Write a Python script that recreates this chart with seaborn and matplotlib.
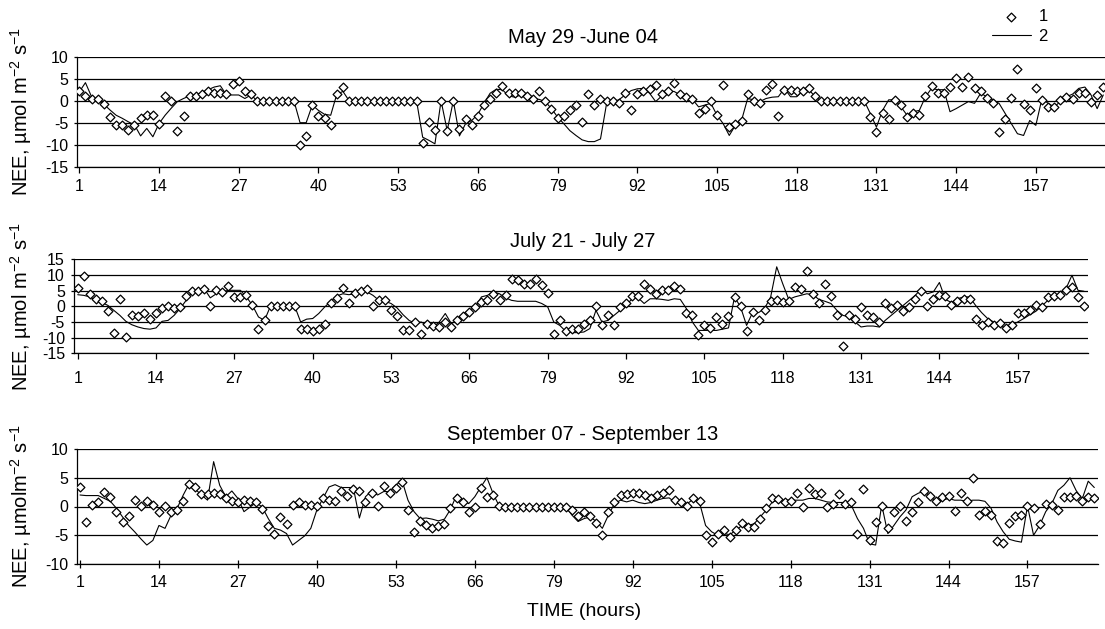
import numpy as np
import pandas as pd
import matplotlib
matplotlib.use("Agg")
import matplotlib.pyplot as plt
import seaborn as sns

# ---------------- data ----------------
hours = list(range(1, 169))
x_ticks = list(range(1, 158, 13))

titles = ["May 29 -June 04", "July 21 - July 27", "September 07 - September 13"]
ylabels = [r"NEE, µmol m$^{-2}$ s$^{-1}$",
           r"NEE, µmol m$^{-2}$ s$^{-1}$",
           r"NEE, µmolm$^{-2}$ s$^{-1}$"]
xlabel = "TIME (hours)"
legend_labels = ["1", "2"]

# panel 1: May 29 - June 04  (1 = measured, diamonds; 2 = line)
p1_meas = [2.1, 1.1, 0.5, 0.5, -0.8, -3.8, -5.5, -5.5, -6.7, -5.5,
           -4.0, -3.3, -3.3, -5.2, 1.1, 0.0, -6.9, -3.5, 1.1, 1.1,
           1.5, 2.1, 1.8, 1.8, 1.5, 3.8, 4.5, 2.1, 1.5, 0.0,
           0.0, 0.0, 0.0, 0.0, 0.0, 0.0, -10.1, -8.1, -1.0, -3.5,
           -3.9, -5.6, 1.5, 3.1, 0.0, 0.0, 0.0, 0.0, 0.0, 0.0,
           0.0, 0.0, 0.0, 0.0, 0.0, 0.0, -9.5, -4.8, -6.6, 0.0,
           -6.9, 0.0, -6.4, -4.2, -5.6, -3.5, -1.0, 0.3, 1.7, 3.4,
           1.8, 1.7, 1.7, 1.1, 0.3, 2.1, -0.1, -1.8, -3.9, -3.5,
           -2.2, -1.0, -4.8, 1.5, -1.0, 0.5, -0.1, 0.0, -0.6, 1.7,
           -2.2, 1.5, 2.1, 2.6, 3.6, 1.5, 2.1, 4.0, 1.5, 0.8,
           0.5, -2.8, -1.8, 0.0, -3.3, 3.5, -6.0, -5.2, -4.5, 1.5,
           0.0, -0.5, 2.5, 3.8, -3.5, 2.5, 2.5, 2.1, 2.3, 2.8,
           1.1, 0.0, 0.0, 0.0, 0.0, 0.0, 0.0, 0.0, 0.0, -3.8,
           -7.0, -2.9, -4.2, 0.2, -1.0, -3.8, -2.9, -3.2, 1.1, 3.4,
           1.7, 1.7, 3.1, 5.2, 3.1, 5.5, 2.8, 2.3, 0.7, -0.6,
           -7.0, -4.2, 0.7, 7.3, -0.8, -2.2, 2.8, 0.2, -1.4, -1.4,
           0.2, 0.9, 0.3, 1.7, 1.8, -0.2, 1.3, 3.2]
p1_model = [2.0, 4.1, 0.9, 0.2, -0.8, -2.1, -3.3, -4.0, -4.8, -5.5,
            -8.0, -6.3, -8.2, -5.2, -3.3, -1.7, -0.2, 0.5, 1.1, 1.3,
            1.8, 2.5, 3.1, 3.4, 1.3, 1.3, 1.3, 0.5, 1.3, 0.0,
            0.0, 0.0, 0.0, 0.0, 0.0, 0.0, -5.0, -5.0, -1.0, -2.2,
            -3.1, -3.3, 1.5, 2.1, 0.0, 0.0, 0.0, 0.0, 0.0, 0.0,
            0.0, 0.0, 0.0, 0.0, 0.0, 0.0, -8.3, -9.0, -9.8, 0.0,
            -6.8, 0.0, -8.0, -5.2, -4.5, -3.1, -0.6, 1.7, 2.6, 2.5,
            1.1, 0.8, 1.3, 1.1, 0.5, 0.3, -0.2, -1.8, -3.7, -5.2,
            -6.8, -7.9, -8.9, -9.3, -9.3, -8.7, -0.6, -0.2, 0.2, 1.3,
            2.3, 2.7, 2.8, 1.7, -0.2, 1.1, 2.1, 2.1, 1.3, 0.8,
            0.3, -1.4, -1.0, -0.6, -3.3, -5.2, -7.9, -5.6, -4.5, 0.5,
            0.2, -0.2, 0.5, 0.8, 0.9, 2.8, 0.9, 0.9, 2.3, 2.5,
            0.9, 0.0, 0.0, 0.0, 0.0, 0.0, 0.0, 0.0, 0.0, -2.9,
            -6.0, -2.2, 0.2, 0.2, -1.4, -3.3, -2.5, -2.2, 0.9, 2.8,
            2.5, 2.5, -2.5, -1.8, -1.0, -0.2, -0.6, 1.7, 0.9, 0.2,
            -0.6, -2.9, -5.2, -7.5, -7.9, -4.5, -5.6, 0.5, -0.6, -1.4,
            -0.2, 0.9, 1.5, 2.8, 3.1, 1.3, -1.8, 1.3]

# panel 2: July 21 - July 27
p2_meas = [6.0, 9.7, 3.8, 2.4, 1.6, -1.5, -8.4, 2.4, -9.9, -2.9,
           -3.1, -2.0, -3.9, -2.0, -0.4, 0.1, -0.7, -0.2, 3.3, 4.9,
           4.9, 5.6, 0.1, 5.1, 4.6, 6.4, 3.0, 3.0, 3.7, 0.5,
           -7.3, -4.5, 0.1, 0.1, 0.1, 0.1, 0.1, -7.3, -7.3, -8.0,
           -7.3, -5.5, 1.1, 2.7, 5.9, 1.1, 4.4, 4.8, 5.6, 0.0,
           1.9, 1.9, -1.3, -3.1, -7.7, -7.7, -5.0, -8.7, -5.5, -6.3,
           -6.6, -5.0, -6.6, -4.5, -3.1, -1.8, -0.2, 1.4, 1.9, 4.0,
           1.9, 3.7, 8.6, 8.3, 7.2, 7.2, 8.8, 6.9, 4.4, -8.7,
           -4.5, -8.0, -7.1, -7.1, -5.5, -4.5, 0.1, -6.1, -2.9, -5.9,
           -0.2, 1.2, 3.3, 3.2, 7.2, 5.4, 4.0, 5.1, 5.1, 6.4,
           5.6, -2.0, -2.7, -9.3, -6.1, -6.8, -3.4, -5.5, -3.1, 3.0,
           0.1, -8.0, -1.8, -4.3, -1.3, 1.6, 1.9, 1.4, 1.6, 6.2,
           5.6, 11.2, 3.8, 0.9, 7.2, 3.3, -2.9, -12.7, -2.9, -4.1,
           -0.2, -2.7, -3.4, -5.0, 1.2, -0.7, 0.3, -1.6, -0.2, 2.2,
           4.8, 0.1, 2.2, 3.7, 3.3, 0.3, 1.6, 2.2, 2.4, -3.9,
           -6.1, -5.0, -6.1, -5.3, -6.9, -5.9, -2.0, -2.0, -1.3, 0.3,
           -0.2, 3.0, 3.3, 3.5, 5.1, 6.2, 3.0, 0.0]
p2_model = [3.7, 3.5, 3.0, 1.9, 1.2, 0.3, -1.3, -2.9, -4.8, -5.9,
            -6.6, -7.1, -7.3, -6.9, -4.8, -4.5, -2.9, -0.7, 1.9, 4.6,
            4.8, 5.6, 2.7, 4.0, 4.6, 5.1, 5.1, 5.1, 3.0, 0.3,
            -3.4, -4.5, 0.1, 0.1, 0.1, 0.1, 0.1, -5.0, -4.1, -3.9,
            -2.3, -0.2, 1.6, 3.3, 4.0, 3.7, 4.0, 5.1, 4.6, 3.5,
            1.9, 1.6, 0.9, -0.5, -2.7, -4.5, -5.5, -5.0, -6.1, -6.6,
            -5.0, -2.3, -5.5, -4.5, -2.3, -1.3, -0.2, 3.0, 3.5, 4.6,
            4.0, 2.7, 1.9, 1.6, 1.6, 1.6, 1.6, 0.9, -0.2, -5.0,
            -6.1, -8.0, -8.4, -8.4, -8.2, -7.1, -1.3, -5.0, -4.5, -2.9,
            -1.3, 0.3, 2.4, 2.7, 0.9, 2.4, 2.4, 2.2, 1.9, 2.4,
            2.2, -0.7, -5.0, -7.7, -7.7, -7.7, -7.7, -7.3, -6.9, 3.0,
            -0.2, -6.1, -2.0, -2.0, -0.7, 3.0, 12.6, 7.2, 2.2, 3.0,
            3.5, 4.0, 3.7, 2.2, 1.6, 0.9, -1.3, -2.9, -3.4, -5.0,
            -6.6, -6.3, -6.3, -6.6, -4.5, -2.9, -1.3, 0.3, 1.9, 3.5,
            5.6, 4.0, 4.6, 7.6, 2.2, 1.2, 2.4, 3.0, 3.0, 0.3,
            -2.0, -3.9, -5.0, -6.1, -6.9, -6.1, -5.0, -3.9, -2.7, -1.6,
            0.1, 1.9, 3.0, 4.0, 5.6, 9.9, 5.1, 4.8]

# panel 3: September 07 - September 13
p3_meas = [3.4, -2.7, 0.2, 0.8, 2.6, 1.7, -0.9, -2.7, -1.6, 1.1,
           0.1, 0.9, 0.2, -1.0, 0.1, -1.0, -0.6, 0.9, 3.9, 3.4,
           2.1, 2.1, 2.4, 2.1, 1.4, 1.0, 0.8, 1.2, 0.9, 0.7,
           -0.5, -3.4, -4.7, -1.8, -3.1, 0.3, 0.7, 0.2, 0.2, 0.1,
           1.5, 1.1, 0.9, 2.7, 1.9, 3.0, 2.7, 0.8, 2.3, 0.1,
           3.5, 2.4, 3.3, 4.3, -0.6, -4.4, -2.6, -3.3, -3.8, -3.4,
           -3.0, -0.2, 1.4, 0.7, -0.9, -0.1, 3.3, 1.7, 2.0, 0.1,
           0.0, 0.0, 0.0, 0.0, 0.0, 0.0, 0.0, 0.0, 0.0, 0.0,
           0.0, -0.6, -1.6, -1.0, -1.6, -2.9, -5.0, -0.9, 0.7, 2.0,
           2.1, 2.3, 2.4, 2.0, 1.5, 2.0, 2.3, 2.8, 1.1, 0.7,
           0.1, 1.5, 0.9, -5.0, -6.2, -4.7, -4.1, -5.3, -4.0, -2.8,
           -3.5, -3.5, -2.2, -0.3, 1.5, 1.3, 0.7, 0.9, 2.4, -0.1,
           3.3, 2.1, 2.4, -0.1, 0.5, 2.1, 0.5, 0.7, -4.8, 3.0,
           -5.9, -2.7, 0.1, -3.7, -1.0, 0.1, -2.6, -1.0, 0.7, 2.7,
           1.9, 0.9, 1.7, 1.9, -0.8, 2.4, 0.9, 4.9, -1.4, -0.8,
           -1.5, -6.0, -6.3, -2.8, -1.6, -1.4, 0.1, -0.2, -3.0, 0.5,
           0.3, -0.6, 1.7, 1.7, 1.9, 0.9, 1.7, 1.4]
p3_model = [2.0, 1.9, 1.9, 1.9, 1.4, 0.9, -0.3, -1.8, -3.3, -4.4,
            -5.6, -6.7, -5.9, -3.3, -3.8, -1.5, -0.3, 2.0, 4.0, 3.0,
            2.0, 1.1, 7.8, 3.7, 1.7, 2.7, 1.4, -0.9, -0.1, 0.7,
            -0.1, -2.1, -3.8, -4.1, -4.7, -6.7, -5.9, -5.1, -3.8, -0.6,
            1.4, 3.4, 3.8, 3.3, 3.3, 3.3, -2.0, 1.7, 2.7, 2.0,
            2.6, 2.6, 3.7, 4.6, 1.1, -0.9, -2.1, -2.0, -2.2, -2.5,
            -2.2, -0.5, 2.0, 1.1, 0.5, 1.7, 3.4, 5.0, 2.3, 0.1,
            0.0, 0.0, 0.0, 0.0, 0.0, 0.0, 0.0, 0.0, 0.0, 0.0,
            0.0, -1.5, -2.6, -2.1, -1.8, -2.6, -3.8, -1.5, 0.5, 1.1,
            0.8, 1.1, 0.7, 0.5, 0.7, 1.1, 1.4, 1.5, 0.7, 0.7,
            0.5, 1.3, 0.7, -3.3, -4.4, -5.0, -4.7, -4.9, -4.1, -3.3,
            -3.3, -3.0, -1.8, -0.6, 0.8, 1.1, 1.1, 1.1, 1.1, 1.1,
            1.4, 1.4, 1.1, 0.8, 0.7, 0.7, 0.7, 0.2, -2.1, -3.8,
            -6.5, -6.7, 0.3, -4.7, -3.3, -1.8, -0.6, 1.7, 2.3, 2.7,
            1.7, 0.9, 1.1, 1.4, 1.1, 1.1, 0.9, 1.1, 1.1, 0.9,
            -0.3, -2.7, -4.4, -5.7, -6.0, -6.2, 0.1, -5.0, -3.3, -0.9,
            0.5, 2.8, 3.7, 5.0, 2.8, 1.3, 4.4, 3.3]

for arr in (p1_meas, p1_model, p2_meas, p2_model, p3_meas, p3_model):
    assert len(arr) == len(hours), len(arr)

# ---------------- style ----------------
sns.set_theme(style="white")
plt.rcParams["font.family"] = ["Liberation Sans", "DejaVu Sans"]
plt.rcParams["mathtext.fontset"] = "custom"
plt.rcParams["mathtext.rm"] = "Liberation Sans"
plt.rcParams["mathtext.it"] = "Liberation Sans:italic"
plt.rcParams["mathtext.bf"] = "Liberation Sans:bold"
plt.rcParams["axes.unicode_minus"] = False
for key in ("text.color", "axes.labelcolor", "xtick.color", "ytick.color",
            "xtick.labelcolor", "ytick.labelcolor", "axes.edgecolor"):
    plt.rcParams[key] = "black"

W, H = 1105, 629
fig = plt.figure(figsize=(W / 100, H / 100), dpi=100)

panels = [
    dict(meas=p1_meas, model=p1_model, box=(77.3, 1105.0, 56.7, 166.7),
         xlim=(0.674, 168.28), ylim=(-15, 10), yticks=[-15, -10, -5, 0, 5, 10],
         title_pad=9.6, tickdir="out", xpad=5),
    dict(meas=p2_meas, model=p2_model, box=(74.0, 1088.0, 259.3, 353.3),
         xlim=(0.386, 168.66), ylim=(-15, 15), yticks=[-15, -10, -5, 0, 5, 10, 15],
         title_pad=9.0, tickdir="out", xpad=9),
    dict(meas=p3_meas, model=p3_model, box=(77.3, 1097.7, 449.0, 564.0),
         xlim=(0.556, 168.56), ylim=(-10, 10), yticks=[-10, -5, 0, 5, 10],
         title_pad=6.5, tickdir="inout", xpad=5),
]

axes = []
for i, p in enumerate(panels):
    left, right, top, bottom = p["box"]
    ax = fig.add_axes([left / W, 1 - bottom / H, (right - left) / W, (bottom - top) / H])
    axes.append(ax)
    df = pd.DataFrame({"hour": hours, "measured": p["meas"], "model": p["model"]})

    sns.lineplot(data=df, x="hour", y="model", ax=ax, color="black", linewidth=0.8,
                 estimator=None, sort=False, zorder=2,
                 label=legend_labels[1] if i == 0 else None, legend=False)
    sns.scatterplot(data=df, x="hour", y="measured", ax=ax, marker="D", s=20,
                    color="white", edgecolor="black", linewidth=0.9, zorder=3,
                    label=legend_labels[0] if i == 0 else None, legend=False)

    ax.set_xlim(*p["xlim"])
    ax.set_ylim(*p["ylim"])
    ax.set_xticks(x_ticks)
    ax.set_xticklabels([str(t) for t in x_ticks])
    ax.set_yticks(p["yticks"])
    ax.set_yticklabels([str(t) for t in p["yticks"]])
    ax.set_axisbelow(True)
    ax.grid(axis="y", color="black", linewidth=0.9)
    ax.grid(axis="x", visible=False)
    for side in ("top", "right"):
        ax.spines[side].set_visible(False)
    for side in ("left", "bottom"):
        ax.spines[side].set_color("black")
        ax.spines[side].set_linewidth(0.9)
    ax.tick_params(axis="x", direction=p["tickdir"], length=4 if p["tickdir"] == "out" else 6,
                   width=0.9, color="black", labelcolor="black", labelsize=11.5,
                   pad=p["xpad"], bottom=True)
    ax.tick_params(axis="y", direction="out", length=2.5, width=0.9, color="black",
                   labelcolor="black", labelsize=11.5, pad=4, left=True)
    ax.set_xlabel("")
    ax.set_ylabel(ylabels[i], fontsize=14.5, color="black")
    axw = right - left
    ax.yaxis.set_label_coords((34 - left) / axw, 0.5)
    ax.set_title(titles[i], fontsize=14.5, pad=p["title_pad"],
                 x=(583 - left) / axw, color="black")

# x label on the bottom panel
ax3 = axes[2]
left, right, top, bottom = panels[2]["box"]
ax3.set_xlabel(xlabel, fontsize=14, color="black")
ax3.xaxis.set_label_coords((584 - left) / (right - left), (bottom - 603) / (bottom - top))

# legend (top right)
h, l = axes[0].get_legend_handles_labels()
order = [l.index(legend_labels[0]), l.index(legend_labels[1])]
leg = axes[0].legend([h[k] for k in order], [l[k] for k in order],
                     loc="upper left", bbox_to_anchor=(991.7 / W, 1 - 9 / H),
                     bbox_transform=fig.transFigure, frameon=False, fontsize=12,
                     handlelength=2.36, handletextpad=0.45, labelspacing=0.3,
                     borderpad=0, borderaxespad=0)
for t in leg.get_texts():
    t.set_color("black")

fig.savefig("out.png", dpi=100)
